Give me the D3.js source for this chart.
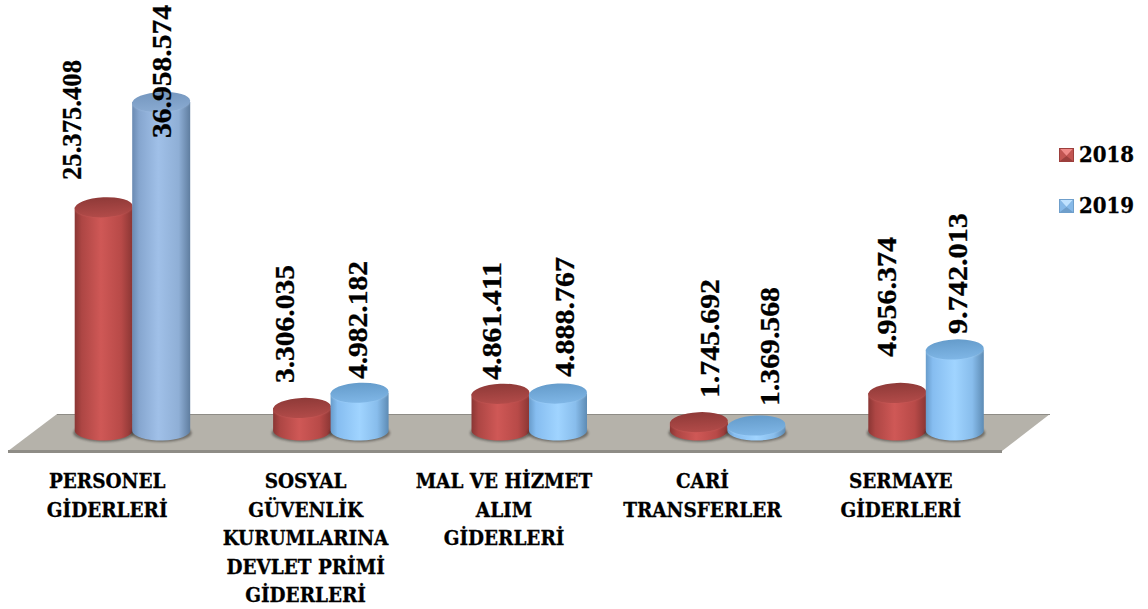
<!DOCTYPE html>
<html><head><meta charset="utf-8">
<script src="https://cdn.jsdelivr.net/npm/d3@7"></script>
<style>html,body{margin:0;padding:0;background:#fff}svg{display:block}
text{font-weight:700;fill:#000}
.val{font-family:"Liberation Serif",serif;stroke:#000;stroke-width:.3}
.cat,.lgt{font-family:"DejaVu Serif Condensed","DejaVu Serif",serif;font-stretch:condensed;stroke:#000;stroke-width:.3}</style></head>
<body><svg id="c" width="1148" height="609"></svg>
<script>
const categories=[["PERSONEL","GİDERLERİ"],["SOSYAL","GÜVENLİK","KURUMLARINA","DEVLET PRİMİ","GİDERLERİ"],["MAL VE HİZMET","ALIM","GİDERLERİ"],["CARİ","TRANSFERLER"],["SERMAYE","GİDERLERİ"]];
const seriesNames=["2018","2019"];
const values2018=[25375408,3306035,4861411,1745692,4956374];
const values2019=[36958574,4982182,4888767,1369568,9742013];
const labels2018=["25.375.408","3.306.035","4.861.411","1.745.692","4.956.374"];
const labels2019=["36.958.574","4.982.182","4.888.767","1.369.568","9.742.013"];
// label placement: [baseline x offset from bar centre, y of the text's lower end, drawn length]
const labelPlace2018=[[-23,180,120],[-8,383,118],[0.5,380,118],[20,398,119],[-1,357,120]];
const labelPlace2019=[[9.5,138,133],[7,379,118],[16,377,120],[22.5,406,119],[12,334,121]];

const svg=d3.select("#c"),defs=svg.append("defs");
const x=d3.scaleBand().domain(d3.range(categories.length)).range([33,1025]);
const y=d3.scaleLinear().domain([0,36958574]).range([438,102]);
const baseY=431,barW=58,ry=10,tilt=-2.5;

function grad(id,stops,vertical){const g=defs.append("linearGradient").attr("id",id);
 if(vertical)g.attr("x2",0).attr("y2",1);
 stops.forEach(s=>g.append("stop").attr("offset",s[0]).attr("stop-color",s[1]));}
grad("red",[[0,"#8a3634"],[.12,"#ad4644"],[.45,"#cf5856"],[.8,"#b84a48"],[1,"#8a3634"]]);
grad("blueM",[[0,"#6a8ab2"],[.12,"#86a6cf"],[.45,"#a0c0e8"],[.8,"#8fafd6"],[1,"#5f7d9f"]]);
grad("blueB",[[0,"#689ccb"],[.12,"#86bdf0"],[.5,"#a0d4ff"],[.8,"#88bdec"],[1,"#5d8bb4"]]);
grad("redTop",[[0,"#8f3a38"],[1,"#b24b49"]],true);
grad("blueMTop",[[0,"#7597bf"],[1,"#8aabd2"]],true);
grad("blueBTop",[[0,"#659ccb"],[1,"#7fb6e6"]],true);
defs.append("filter").attr("id","blur").append("feGaussianBlur").attr("stdDeviation",.8);
defs.append("filter").attr("id","soft").append("feGaussianBlur").attr("stdDeviation",.8);

const floor=[[8,451],[57,414],[1050,414],[1002,451]];
svg.append("polygon").attr("points",floor.map(p=>p.join(",")).join(" ")).attr("fill","#b5b2aa");
svg.append("path").attr("d","M57,414.5H1050").attr("stroke","#8e8c86").attr("stroke-width",1);
svg.append("path").attr("d","M8,451.5H1002").attr("stroke","#8e8c86").attr("stroke-width",3);

const bars=[];
categories.forEach((c,i)=>{const cx=x(i)+x.bandwidth()/2;
 bars.push({i,s:0,v:values2018[i],cx:cx-28.5,lab:labels2018[i],pl:labelPlace2018[i]});
 bars.push({i,s:1,v:values2019[i],cx:cx+29,lab:labels2019[i],pl:labelPlace2019[i]});});

const key=d=>d.s===0?"red":(d.i===0?"blueM":"blueB");
const mark=svg.selectAll("g.bar").data(bars).join("g").attr("class","bar");
mark.append("ellipse").attr("cx",d=>d.cx).attr("cy",baseY+2).attr("rx",barW/2+1.5).attr("ry",ry-1).attr("fill","#2e2c28").attr("opacity",.5).attr("filter","url(#blur)");
mark.append("path").attr("d",d=>{const l=d.cx-barW/2,r=d.cx+barW/2,t=y(d.v),b=baseY;
 return `M${l},${t}L${l},${b}A${barW/2},${ry} 0 0 0 ${r},${b-1}L${r},${t}Z`;}).attr("fill",d=>`url(#${key(d)})`);
mark.append("path").attr("d",d=>{const l=d.cx-barW/2,r=d.cx+barW/2,t=y(d.v);
 return `M${l+1},${t+1}A${barW/2},${ry} 0 0 0 ${r-1},${t+1}`;})
 .attr("transform",d=>`rotate(${tilt} ${d.cx} ${y(d.v)})`)
 .attr("fill","none").attr("stroke",d=>d.s===0?"#dc6f6c":(d.i===0?"#b4d0f0":"#bfe4ff")).attr("stroke-width",1.5).attr("filter","url(#soft)");
mark.append("ellipse").attr("cx",d=>d.cx).attr("cy",d=>y(d.v)).attr("rx",barW/2).attr("ry",ry)
 .attr("transform",d=>`rotate(${tilt} ${d.cx} ${y(d.v)})`)
 .attr("fill",d=>`url(#${key(d)}Top)`);

svg.selectAll("text.val").data(bars).join("text").attr("class","val")
 .attr("transform",d=>`translate(${d.cx+d.pl[0]},${d.pl[1]}) rotate(-90)`)
 .attr("font-size",27).attr("textLength",d=>d.pl[2]).attr("lengthAdjust","spacingAndGlyphs").text(d=>d.lab);

svg.selectAll("text.cat").data(categories).join("text").attr("class","cat")
 .attr("text-anchor","middle").attr("font-size",20.5)
 .each(function(c,i){d3.select(this).selectAll("tspan").data(c).join("tspan")
  .attr("x",x(i)+x.bandwidth()/2-25).attr("y",(d,j)=>488+j*28.5).text(d=>d);});

const lg=svg.selectAll("g.lg").data(seriesNames).join("g").attr("class","lg")
 .attr("transform",(d,i)=>`translate(1059,${148+i*51})`);
lg.append("rect").attr("width",15).attr("height",14).attr("fill",(d,i)=>i?"#6f9fcb":"#9c3f3d");
lg.append("path").attr("d","M1,1H14L7.5,8Z").attr("fill",(d,i)=>i?"#bfe2ff":"#f08a88");
lg.append("path").attr("d","M1,1L7.5,8L1,13Z M14,1L7.5,8L14,13Z").attr("fill",(d,i)=>i?"#86b9e8":"#c25552");
lg.append("text").attr("class","lgt").attr("x",20).attr("y",14).attr("font-size",22).text(d=>d);
</script></body></html>
